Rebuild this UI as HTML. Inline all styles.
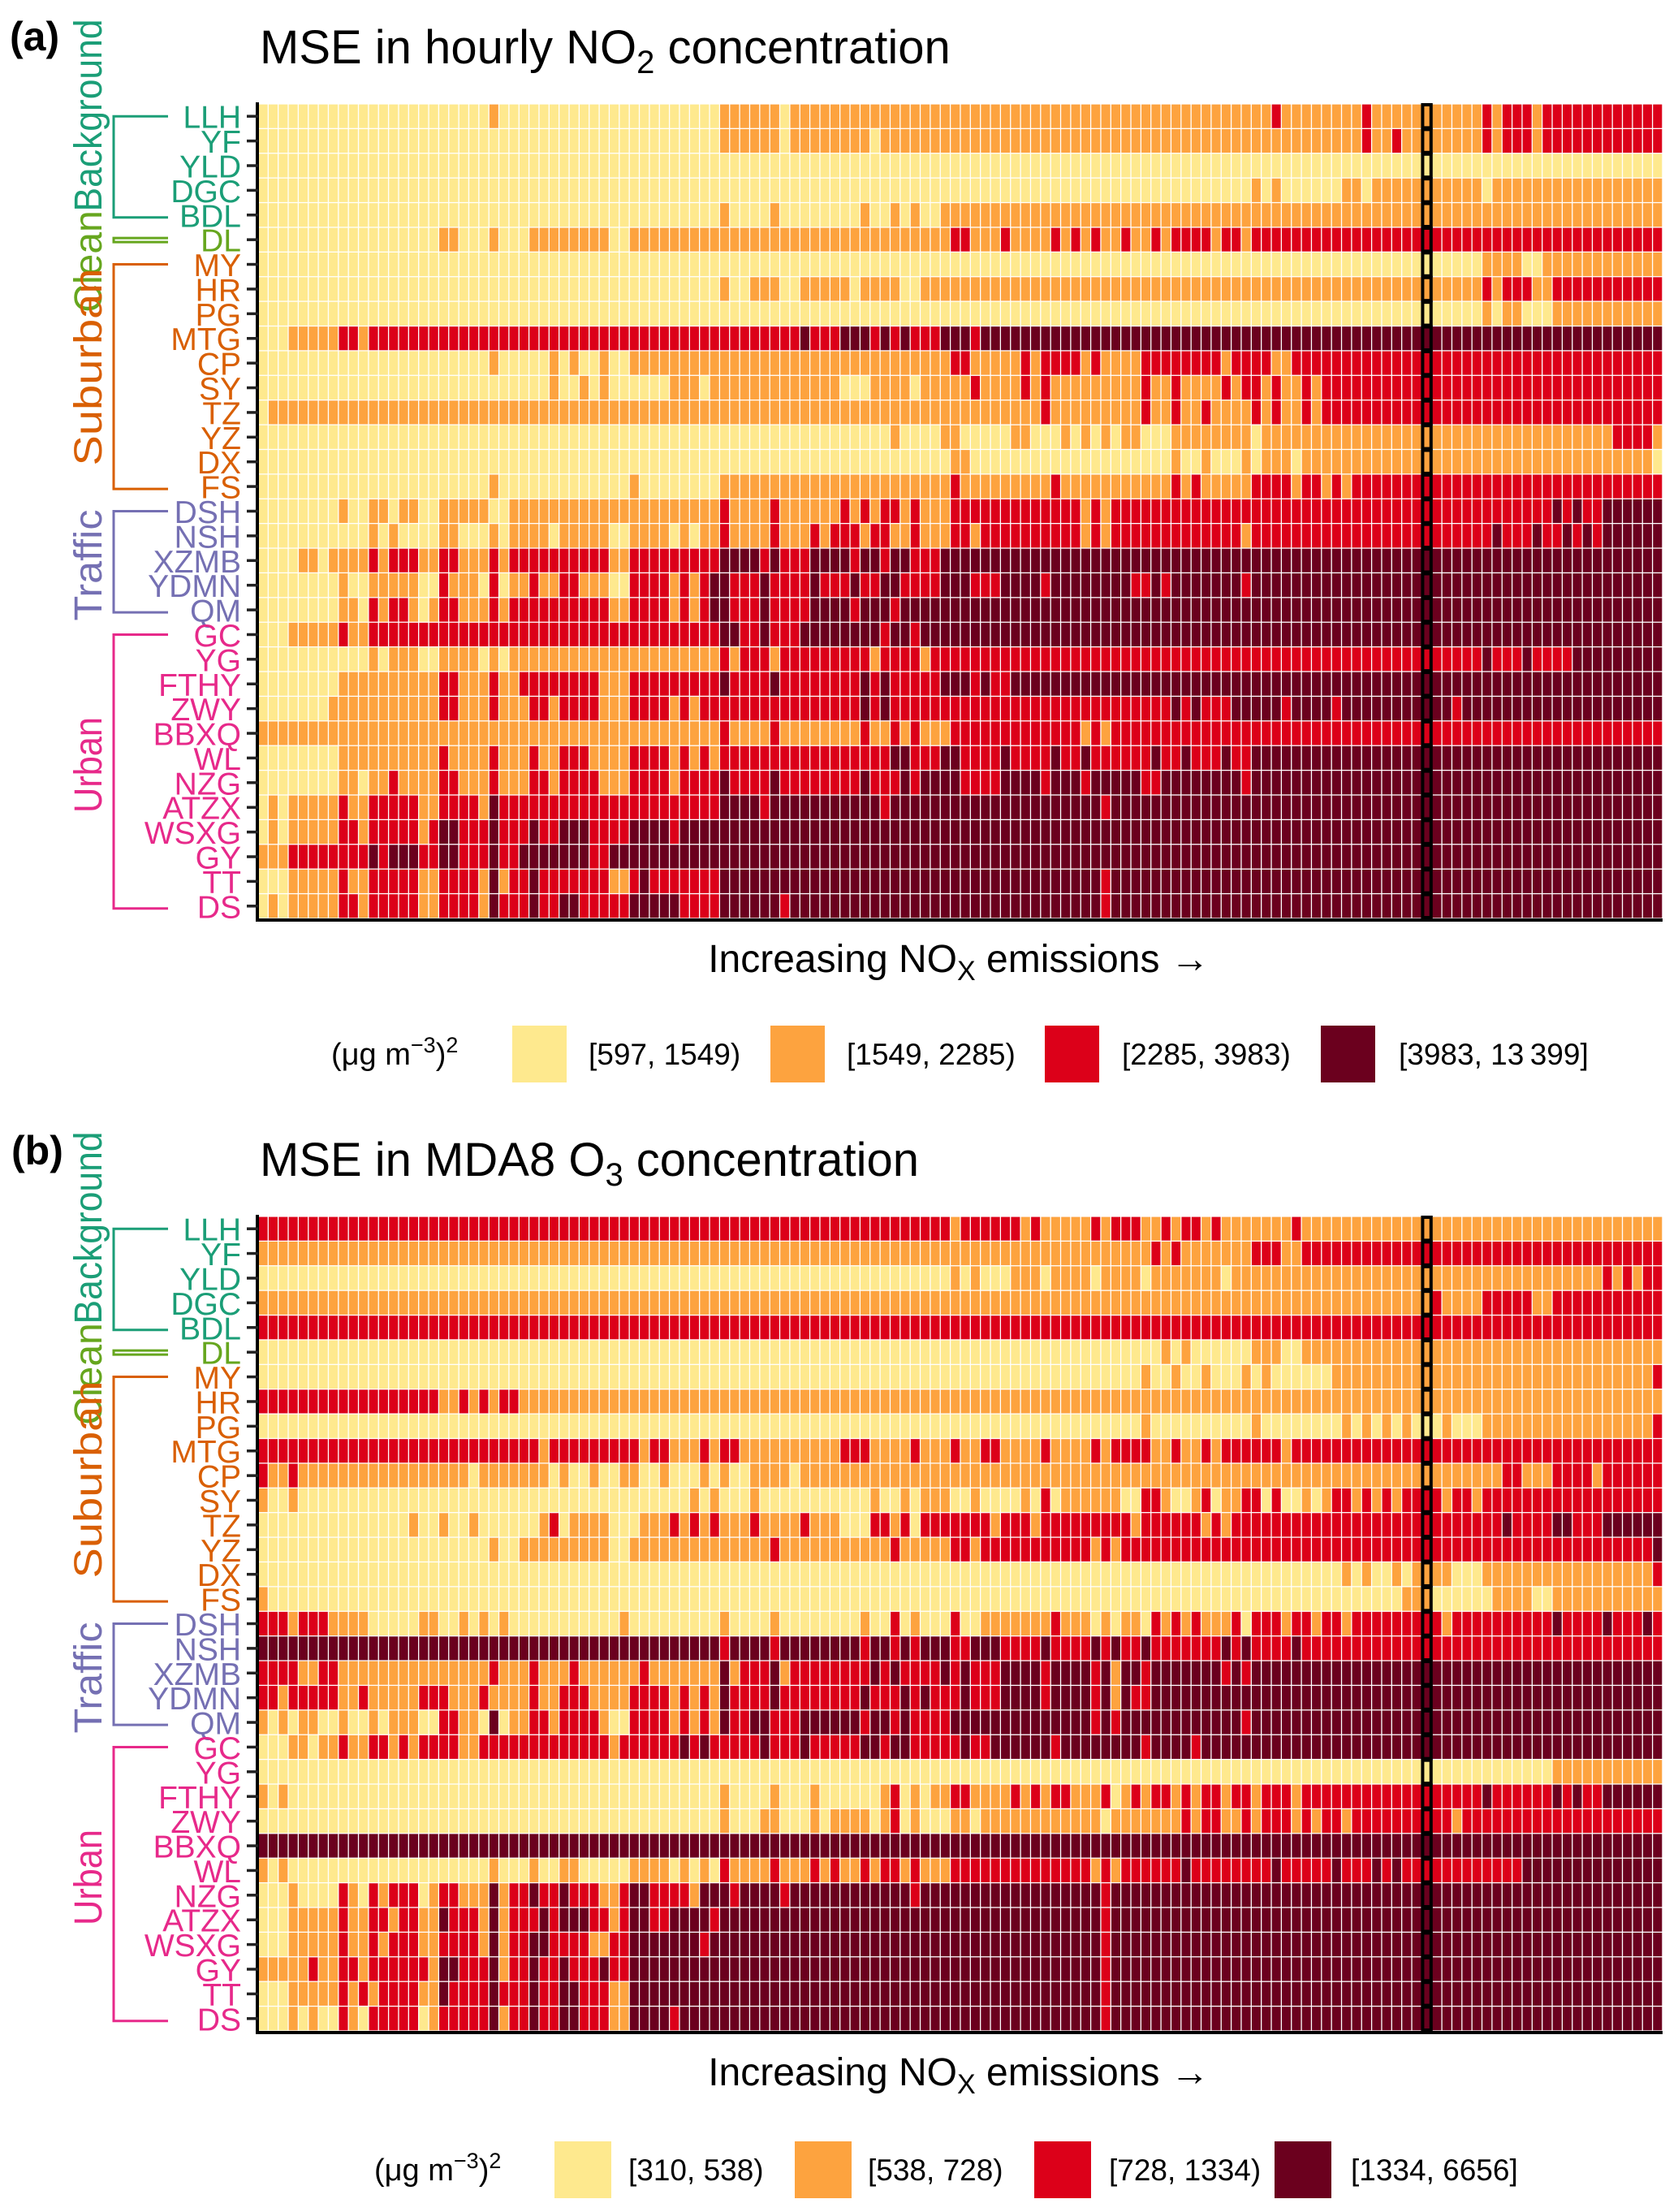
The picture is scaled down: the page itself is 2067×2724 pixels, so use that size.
<!DOCTYPE html>
<html><head><meta charset="utf-8"><style>
html,body{margin:0;padding:0;background:#fff;}
svg{display:block;font-family:"Liberation Sans",Arial,sans-serif;}
</style></head><body>
<svg id="fig" xmlns="http://www.w3.org/2000/svg" width="2067" height="2724" viewBox="0 0 2067 2724">
<rect x="0" y="0" width="2067" height="2724" fill="#fff"/>
</svg>
<script>
const stations = ["LLH","YF","YLD","DGC","BDL","DL","MY","HR","PG","MTG","CP","SY","TZ","YZ","DX","FS","DSH","NSH","XZMB","YDMN","QM","GC","YG","FTHY","ZWY","BBXQ","WL","NZG","ATZX","WSXG","GY","TT","DS"];
const groupNames = ["Background","Clean","Suburban","Traffic","Urban"];
const groupStart = [0,5,6,16,21];
const groupEnd = [4,5,15,20,32];
const groupColors = ["#1b9e77","#66a61e","#d95f02","#7570b3","#e7298a"];
const groupLabelLengths = [237, 0, 243, 137, 118];
const levelColors = ["#FEE98E","#FDA33F","#DC0019","#6B001E"];
const legendLabelsA = ["[597, 1549)","[1549, 2285)","[2285, 3983)","[3983, 13\u2009399]"];
const legendLabelsB = ["[310, 538)","[538, 728)","[728, 1334)","[1334, 6656]"];
const nCols = 140;
const highlightCol = 116;
const levelsA = [
"0:23,1:1,0:22,1:6,0:1,1:48,2:1,1:8,2:1,1:11,2:1,1:1,2:3,1:1,2:12",
"0:46,1:6,0:1,1:8,0:1,1:48,2:1,1:2,2:1,1:8,2:1,1:1,2:3,1:1,2:12",
"0:140",
"0:99,1:1,0:1,1:1,0:6,1:2,0:1,1:11,0:1,1:17",
"0:46,1:1,0:4,1:1,0:8,1:1,0:2,1:1,0:1,1:1,0:2,1:72",
"0:18,1:2,0:3,1:1,0:3,1:8,0:2,1:32,2:2,1:3,2:1,1:4,2:1,1:1,2:1,1:1,2:1,1:2,2:1,1:2,2:1,1:1,2:4,1:1,2:2,1:1,2:41",
"0:122,1:4,0:2,1:12",
"0:46,1:1,0:2,1:3,0:2,1:5,0:1,1:4,0:2,1:56,2:1,1:1,2:3,1:2,2:11",
"0:122,1:1,0:1,1:2,0:3,1:11",
"0:3,1:5,2:2,1:1,2:43,3:1,2:3,3:3,2:1,3:1,2:1,3:1,2:3,3:3,2:1,3:68",
"0:23,1:1,0:5,1:1,0:1,1:1,0:2,1:1,0:2,1:32,2:2,1:5,2:1,1:1,2:4,1:1,2:1,1:4,2:8,1:1,2:4,1:2,2:37",
"0:29,1:1,0:2,1:1,0:1,1:1,0:6,1:3,0:1,1:13,0:3,1:4,0:1,1:5,2:1,1:4,2:1,1:1,2:1,1:9,2:1,1:2,2:1,1:4,2:1,1:1,2:2,1:1,2:1,1:2,2:1,1:1,2:34",
"0:1,1:77,2:1,1:9,2:1,1:2,2:1,1:2,2:1,1:4,2:1,1:1,2:1,1:2,2:1,1:1,2:34",
"0:63,1:1,0:4,1:2,0:5,1:2,0:3,1:1,0:1,1:1,0:1,1:1,0:1,1:2,0:3,1:8,0:1,1:35,2:4,1:1",
"0:69,1:2,0:20,1:1,0:2,1:1,0:3,1:1,0:1,1:3,0:1,1:35,0:1",
"0:23,1:1,0:13,1:1,0:8,1:23,2:1,1:9,2:1,1:11,2:1,1:1,2:1,1:5,2:4,1:1,2:2,1:1,2:1,1:1,2:31",
"0:8,1:1,0:2,1:2,0:1,1:2,0:2,1:5,0:2,1:21,2:1,1:4,2:1,1:6,2:1,1:1,2:1,1:1,2:2,1:1,2:1,1:3,2:13,1:1,2:1,1:1,2:44,3:1,2:1,3:1,2:2,3:6",
"0:11,1:1,0:1,1:1,0:4,1:2,0:3,1:1,0:1,1:4,0:1,1:5,0:2,1:4,0:1,1:1,0:1,1:2,2:1,1:4,2:1,1:3,2:1,1:1,2:3,1:1,2:2,1:2,2:1,1:3,2:2,1:1,2:10,1:1,2:1,1:1,2:13,1:1,2:24,3:1,2:3,3:1,2:2,3:1,2:1,3:1,2:1,3:7",
"0:4,1:2,0:1,1:4,2:1,1:1,2:3,1:2,2:2,1:3,2:1,1:1,2:10,1:2,2:9,3:4,2:1,3:1,2:3,3:4,2:1,3:2,2:1,3:2,2:3,3:72",
"0:8,1:1,0:2,1:5,0:2,2:1,1:3,0:1,2:1,0:1,1:2,2:1,1:2,2:2,1:3,0:2,2:4,1:1,2:1,1:1,2:1,3:2,2:3,3:1,2:4,3:1,2:3,3:1,2:2,3:2,2:4,3:3,2:3,3:4,2:1,3:8,2:2,3:1,2:1,3:7,2:1,3:41",
"0:8,1:2,0:1,2:1,1:1,2:2,1:1,0:1,1:1,2:2,1:3,2:1,1:1,2:10,1:2,2:4,1:1,2:1,1:1,2:1,3:2,2:3,3:1,2:4,3:4,2:1,3:3,2:1,3:76",
"0:3,1:5,2:1,1:2,2:35,3:2,2:2,3:1,2:3,3:8,2:1,3:2,2:1,3:74",
"0:11,1:1,0:1,1:3,0:2,1:4,0:1,1:1,0:1,1:21,2:1,1:1,2:3,1:1,2:9,1:1,2:4,1:1,2:55,3:1,2:3,3:1,2:4,3:9",
"0:8,1:10,2:2,1:3,2:1,1:2,2:8,1:3,2:9,3:1,2:4,3:1,2:8,3:1,2:1,3:1,2:5,3:3,2:1,3:1,2:2,3:65",
"0:7,1:11,2:2,1:3,2:1,1:3,2:2,1:1,2:4,1:3,2:4,1:1,2:1,1:1,2:16,3:1,2:1,3:1,2:28,3:1,2:1,3:1,2:3,3:5,2:1,3:4,2:1,3:11,2:1,3:20",
"1:46,2:1,1:4,2:1,1:8,2:1,1:2,2:1,1:1,2:1,1:3,2:13,1:1,2:1,1:1,2:55",
"0:8,1:10,2:1,1:4,2:1,1:3,2:1,1:2,2:3,1:4,2:4,1:1,2:1,1:1,2:1,1:1,2:17,3:2,2:3,3:2,2:4,3:1,2:4,3:1,2:2,3:1,2:6,3:1,2:2,3:1,2:3,3:1,2:2,3:41",
"0:8,1:2,0:1,1:2,2:1,1:4,2:2,1:3,2:1,1:3,2:2,1:1,2:4,1:3,2:4,1:1,2:4,3:1,2:4,3:1,2:8,3:1,2:3,3:1,2:1,3:4,2:4,3:4,2:1,3:3,2:1,3:5,2:2,3:8,2:1,3:41",
"0:1,1:1,0:1,1:5,2:1,1:2,2:5,1:2,2:4,1:1,3:1,2:22,3:4,2:1,3:11,2:1,3:21,2:1,3:55",
"0:1,1:1,0:1,1:5,2:2,1:1,2:5,1:1,2:1,3:2,2:3,3:1,2:3,3:1,2:2,3:3,2:4,3:4,2:1,3:98",
"1:3,2:8,3:1,2:1,3:3,2:2,3:2,2:3,3:1,2:2,3:7,2:2,3:105",
"0:3,1:5,2:1,1:2,2:5,1:2,2:4,1:1,3:1,1:1,2:2,3:1,2:7,1:2,2:1,3:1,2:7,3:38,2:1,3:55",
"0:1,1:1,0:1,1:5,2:2,1:1,2:5,1:2,2:4,1:1,3:1,2:3,3:1,2:2,3:2,2:5,3:5,2:4,3:6,2:1,3:31,2:1,3:55"
];
const levelsB = [
"2:69,1:1,2:6,1:1,2:1,1:5,2:1,1:1,2:3,1:2,2:1,1:1,2:2,1:1,2:1,1:7,2:1,1:36",
"1:89,2:1,1:1,2:1,1:7,2:3,1:2,2:36",
"0:69,1:1,0:1,1:1,0:3,1:3,0:1,1:4,0:1,1:4,0:1,1:7,0:1,1:37,2:1,1:1,2:1,1:1,2:2",
"1:117,2:1,1:4,2:5,1:2,2:11",
"2:140",
"0:90,1:1,0:1,1:1,0:6,1:3,0:2,1:36",
"0:88,1:1,0:2,1:1,0:2,1:1,0:3,1:1,0:1,1:1,0:6,1:32,2:1",
"2:18,1:2,2:1,1:1,2:1,1:1,2:2,1:114",
"0:88,1:1,0:10,1:1,0:8,1:1,0:1,1:1,0:1,1:1,0:1,1:1,0:3,1:1,0:3,1:17,2:1",
"2:28,1:1,2:9,1:1,2:2,1:3,2:1,1:1,2:2,1:10,2:3,1:4,2:1,1:3,2:1,1:2,2:2,1:4,2:1,1:4,2:1,1:1,2:4,1:2,2:1,1:2,2:1,1:1,2:6,1:1,2:37",
"2:1,1:2,2:1,1:17,0:1,1:7,0:1,1:1,0:2,1:1,0:2,1:2,0:2,1:1,0:3,1:1,0:1,1:1,0:2,1:4,0:1,1:70,2:2,1:3,2:4,1:1,2:6",
"1:1,0:2,1:1,0:39,1:1,0:1,1:1,0:3,1:1,0:11,1:1,0:2,1:1,0:1,1:3,0:2,1:1,0:4,1:1,0:1,2:1,0:1,1:6,0:2,2:2,1:1,0:2,1:1,2:1,0:1,1:2,2:2,0:1,2:1,0:2,1:1,0:1,1:1,2:2,1:1,2:1,1:1,2:1,1:1,2:4,1:1,2:2,1:1,2:18",
"0:15,1:1,0:2,1:1,0:2,1:1,0:6,1:1,2:1,0:1,1:4,0:3,1:3,2:1,1:1,2:1,1:1,2:1,1:3,2:1,1:4,2:1,1:3,0:3,2:2,1:1,2:1,0:1,2:7,1:1,2:3,1:1,2:9,1:1,2:6,1:1,2:1,1:1,2:27,3:1,2:4,3:2,2:3,3:6",
"0:23,1:1,0:2,1:9,0:2,1:14,2:1,1:11,2:1,1:5,2:2,1:1,2:11,1:1,2:1,1:1,2:53,3:1",
"0:108,1:1,0:1,1:1,0:2,1:1,0:1,1:4,0:3,1:17,2:1",
"1:1,0:113,1:3,0:6,1:4,0:2,1:11",
"2:3,1:1,2:3,1:4,0:5,1:2,0:2,1:1,0:1,1:1,0:1,1:1,0:11,1:1,0:9,1:1,0:4,1:1,0:8,1:1,0:2,2:1,0:1,1:1,0:3,2:1,0:2,1:7,2:1,1:3,0:1,1:1,0:1,1:2,0:1,2:1,1:1,2:1,1:1,2:1,1:3,2:1,0:1,2:3,1:1,2:2,1:1,2:2,1:1,2:9,1:1,2:10,3:1,2:4,3:1,2:3,3:1,2:1",
"3:46,2:1,3:4,2:1,3:8,2:1,3:2,2:1,3:1,2:1,3:3,2:2,3:3,2:4,3:1,2:4,3:1,2:1,3:1,2:2,3:1,2:7,3:1,2:1,3:1,2:4,3:1,2:36",
"2:4,1:2,2:2,1:15,2:1,1:3,2:1,1:3,2:1,1:6,2:1,1:7,3:1,1:1,2:3,3:1,1:1,2:8,3:1,2:1,3:1,2:4,3:1,2:1,3:1,2:3,3:4,2:1,3:4,2:1,3:1,1:1,3:2,2:1,3:7,2:1,3:1,2:1,3:41",
"2:2,1:1,2:5,1:2,2:1,1:5,2:3,1:3,2:1,1:4,2:1,1:2,2:3,1:4,2:4,1:1,2:1,1:1,2:1,1:1,3:1,2:4,3:1,2:8,3:1,2:3,3:1,2:1,3:1,2:3,3:1,2:3,3:4,2:1,3:4,2:1,3:1,1:1,3:1,2:2,3:51",
"1:1,0:1,1:1,0:1,1:2,0:2,1:1,0:2,1:1,0:1,1:3,0:2,2:2,1:2,0:1,3:1,0:1,1:2,2:2,1:1,2:4,1:1,0:2,2:4,1:1,2:1,1:1,2:1,1:1,3:1,2:2,3:2,2:3,3:6,2:1,3:2,2:1,3:1,2:4,3:14,2:1,3:1,2:1,3:12,2:1,3:41",
"0:3,1:2,0:1,1:2,2:1,1:2,2:2,1:1,2:1,1:1,2:4,1:2,2:13,1:1,2:6,3:1,2:1,3:1,2:5,3:1,2:3,3:1,2:5,3:2,2:1,3:2,2:5,3:1,2:2,3:6,2:1,3:8,2:1,3:4,2:1,3:46",
"0:129,1:11",
"1:1,0:1,1:1,0:43,1:1,0:4,1:1,0:3,1:1,0:6,1:1,2:1,0:1,1:1,0:1,1:2,2:2,1:4,2:1,1:1,2:1,1:1,2:2,1:3,2:1,0:1,1:1,2:1,1:1,2:2,1:1,2:1,1:1,2:2,1:1,2:2,1:1,2:3,1:1,2:18,3:1,2:6,3:1,2:1,3:1,2:2,3:6",
"0:46,1:1,0:3,1:2,0:3,1:1,0:1,1:4,0:1,1:1,2:1,0:1,1:1,0:3,1:2,0:1,1:12,0:1,1:7,2:1,1:1,2:2,1:2,2:1,1:1,2:3,1:1,2:1,1:1,2:2,1:1,2:10,1:1,2:20",
"3:140",
"1:1,0:1,1:1,0:20,1:1,0:3,1:1,0:2,1:2,0:5,1:4,0:1,1:1,0:1,1:1,0:1,2:1,1:4,2:1,1:3,2:1,1:1,2:1,1:2,2:1,1:1,2:2,1:1,2:1,1:3,2:14,1:1,2:1,1:1,2:6,3:1,2:8,3:1,2:5,3:1,2:3,3:1,2:1,3:1,2:12,3:14",
"0:3,1:1,0:4,2:1,1:1,0:1,2:1,1:1,2:3,0:1,1:1,2:2,1:3,3:1,1:1,2:2,3:1,2:2,3:1,2:3,1:2,2:1,3:2,2:4,1:1,3:3,2:1,3:4,2:1,3:12,2:1,3:18,2:1,3:55",
"0:3,1:5,2:1,1:2,2:2,1:1,2:2,1:2,3:1,2:3,1:1,3:1,1:1,2:3,3:1,2:1,3:3,2:2,1:1,2:1,3:2,2:2,3:4,2:1,3:38,2:1,3:55",
"0:3,1:5,2:1,1:2,2:1,1:1,2:3,1:2,2:4,1:1,3:1,1:1,2:2,3:2,2:4,1:2,2:2,3:7,2:1,3:39,2:1,3:55",
"1:5,2:1,1:2,2:2,1:1,2:6,1:1,3:2,2:3,3:1,1:1,2:2,3:1,2:2,3:1,2:3,3:1,2:2,3:47,2:1,3:55",
"0:3,1:5,2:1,1:1,2:1,1:1,2:4,1:2,3:1,2:4,3:1,2:3,3:1,2:2,3:2,2:3,1:2,3:47,2:1,3:55",
"0:3,1:1,0:1,1:1,0:2,2:1,1:1,0:1,2:5,0:1,1:1,2:5,3:1,1:1,2:2,3:1,2:2,3:2,2:3,1:2,3:4,2:1,3:42,2:1,3:55"
];

const NS = "http://www.w3.org/2000/svg";
const svg = document.getElementById("fig");
function mk(tag, attrs, parent) {
  const e = document.createElementNS(NS, tag);
  for (const k in attrs) e.setAttribute(k, attrs[k]);
  (parent || svg).appendChild(e);
  return e;
}
function expand(rle) {
  const out = [];
  rle.split(",").forEach(p => {
    const [v, n] = p.split(":").map(Number);
    for (let i = 0; i < n; i++) out.push(v);
  });
  while (out.length < nCols) out.push(out[out.length - 1]);
  return out.slice(0, nCols);
}

function drawPanel(cfg) {
  const g = mk("g", {});
  
  
  const x0 = 318, x1 = 2048, y0 = cfg.top, y1 = cfg.bottom;
  const nRows = stations.length;
  const cw = (x1 - x0) / nCols, rh = (y1 - y0) / nRows;
  const xScale = c => x0 + c * cw;
  const yScale = r => y0 + r * rh;

  const pl = mk("text", {x: cfg.letterX, y: cfg.letterY, "font-size": 50, "font-weight": "bold", fill: "#000"}, g);
  
  
  pl.textContent = cfg.letter;

  const t = mk("text", {x: 320, y: cfg.titleY, "font-size": 58, fill: "#000"}, g);
  
  
  const t1 = mk("tspan", {}, t); t1.textContent = cfg.title[0];
  const t2 = mk("tspan", {dy: 12, "font-size": 40}, t); t2.textContent = cfg.title[1];
  const t3 = mk("tspan", {dy: -12}, t); t3.textContent = cfg.title[2];

  const cells = mk("g", {}, g);
  
  
  cfg.levels.forEach((rowStr, r) => {
    const vals = expand(rowStr);
    vals.forEach((v, c) => {
      const rc = mk("rect", {x: xScale(c) + 0.6, y: yScale(r) + 0.6, width: cw - 1.3, height: rh - 1.3, fill: levelColors[v]}, cells);
      
      
    });
  });
  const hl = mk("g", {}, g);
  
  
  for (let r = 0; r < nRows; r++) {
    const b = mk("rect", {x: xScale(highlightCol) + 1, y: yScale(r) + 1, width: cw - 2, height: rh - 2, fill: "none", stroke: "#000", "stroke-width": 4}, hl);
    
    
  }

  const ya = mk("line", {x1: x0 - 1, y1: y0 - 2, x2: x0 - 1, y2: y1 + 3, stroke: "#000", "stroke-width": 4}, g);
  
  
  const xa = mk("line", {x1: x0 - 3, y1: y1 + 2, x2: x1, y2: y1 + 2, stroke: "#000", "stroke-width": 4}, g);
  
  

  const groupOf = r => { for (let i = 0; i < groupStart.length; i++) if (r >= groupStart[i] && r <= groupEnd[i]) return i; return 0; };
  stations.forEach((s, r) => {
    const cy = yScale(r) + rh / 2;
    const tk = mk("line", {x1: 304, y1: cy, x2: x0, y2: cy, stroke: "#222", "stroke-width": 3.5}, g);
    
    
    const lb = mk("text", {x: 297, y: cy + 14.5, "font-size": 39, "text-anchor": "end", fill: groupColors[groupOf(r)]}, g);
    
    
    lb.textContent = s;
  });

  groupNames.forEach((gn, i) => {
    const cTop = yScale(groupStart[i]) + rh / 2, cBot = yScale(groupEnd[i]) + rh / 2;
    let top = cTop, bot = cBot + 3;
    if (groupStart[i] === groupEnd[i]) { top = cTop - 2; bot = cTop + 3; }
    const br = mk("path", {d: `M207 ${top} H140 V${bot} H207`, fill: "none", stroke: groupColors[i], "stroke-width": 3}, g);
    
    
    const cy = y0 + cfg.groupLabelCenters[i];
    const attrs = {x: 0, y: 0, "font-size": 48, "text-anchor": "middle", fill: groupColors[i], transform: `translate(125 ${cy}) rotate(-90)`};
    if (groupLabelLengths[i] > 0) { attrs.textLength = groupLabelLengths[i]; attrs.lengthAdjust = "spacingAndGlyphs"; }
    const gl = mk("text", attrs, g);
    
    
    gl.textContent = gn;
  });

  const xt = mk("text", {x: 1181, y: cfg.xTitleY, "font-size": 48, "text-anchor": "middle", fill: "#000"}, g);
  
  
  const x1s = mk("tspan", {}, xt); x1s.textContent = "Increasing NO";
  const x2s = mk("tspan", {dy: 10, "font-size": 34}, xt); x2s.textContent = "X";
  const x3s = mk("tspan", {dy: -10}, xt); x3s.textContent = " emissions \u2192";

  const lg = mk("g", {}, g);
  
  
  const ly = cfg.legendY;
  const ut = mk("text", {x: cfg.unitX, y: ly + 13, "font-size": 38, fill: "#000"}, lg);
  
  
  const u1 = mk("tspan", {}, ut); u1.textContent = "(\u03bcg m";
  const u2 = mk("tspan", {dy: -15, "font-size": 27}, ut); u2.textContent = "\u22123";
  const u3 = mk("tspan", {dy: 15}, ut); u3.textContent = ")";
  const u4 = mk("tspan", {dy: -15, "font-size": 27}, ut); u4.textContent = "2";
  cfg.legendLabels.forEach((lab, i) => {
    const sq = mk("rect", {x: cfg.sqX[i], y: ly - 35, width: cfg.sqW, height: 70, fill: levelColors[i]}, lg);
    
    
    const tx = mk("text", {x: cfg.labX[i], y: ly + 13, "font-size": 37, fill: "#000"}, lg);
    
    
    tx.textContent = lab;
  });
}

drawPanel({name: "panel-a", letter: "(a)", letterX: 12, letterY: 62, title: ["MSE in hourly NO", "2", " concentration"], titleY: 78,
  top: 128, bottom: 1131, levels: levelsA, groupLabelCenters: [14, 194, 324, 568, 814], xTitleY: 1197,
  legendY: 1298, unitX: 408, sqX: [631, 949, 1287, 1627], sqW: 67, labX: [725, 1043, 1382, 1723], legendLabels: legendLabelsA});
drawPanel({name: "panel-b", letter: "(b)", letterX: 14, letterY: 1434, title: ["MSE in MDA8 O", "3", " concentration"], titleY: 1448,
  top: 1498, bottom: 2501, levels: levelsB, groupLabelCenters: [14, 194, 324, 568, 814], xTitleY: 2568,
  legendY: 2672, unitX: 461, sqX: [683, 979, 1274, 1570], sqW: 70, labX: [774, 1069, 1366, 1664], legendLabels: legendLabelsB});
</script>
</body></html>
